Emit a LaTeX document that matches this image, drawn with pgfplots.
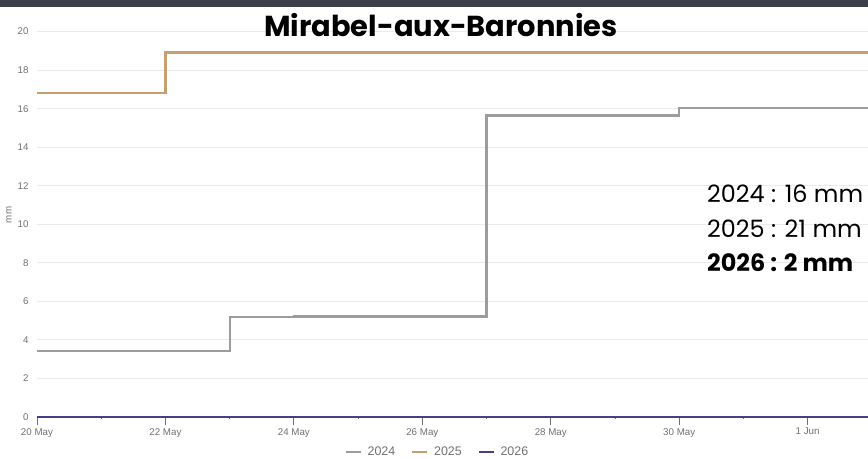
\documentclass[border=0pt]{standalone}
\usepackage{pgfplots}
\pgfplotsset{compat=1.18}
\usepackage{fontspec}
\setmainfont{Liberation Sans}
\newfontfamily\pop{Poppins}
\definecolor{band}{HTML}{3D404A}
\definecolor{c24}{HTML}{9C9C9C}
\definecolor{c25}{HTML}{C89E6E}
\definecolor{c26}{HTML}{4B3C85}
\definecolor{tick}{HTML}{707070}
\definecolor{gridc}{HTML}{EBEBEB}
\begin{document}
\begin{tikzpicture}[x=1bp,y=1bp]
\useasboundingbox (0,0) rectangle (868,459);
\begin{axis}[
  at={(37bp,42.3bp)}, anchor=south west,
  scale only axis, width=831bp, height=409.7bp,
  xmin=0, xmax=12.94, ymin=0, ymax=21.28,
  axis line style={draw=none},
  axis x line=bottom, axis y line=left,
  xtick={0,2,4,6,8,10,12},
  xticklabels={20 May,22 May,24 May,26 May,28 May,30 May,1 Jun},
  minor xtick={1,3,5,7,9,11},
  ytick={0,2,...,20},
  ymajorgrids, major grid style={gridc, line width=1pt},
  xmajorgrids=false,
  tick style={tick, line width=0.9pt},
  major tick length=8bp, minor tick length=2bp,
  x tick style={tick, yshift=-4bp},
  minor x tick style={yshift=3bp},
  y tick style={draw=none},
  tick label style={font=\fontsize{9.8}{10}\selectfont, text=tick},
  /pgf/number format/assume math mode=true,
  xticklabel style={yshift=-4bp},
  yticklabel style={xshift=-1bp},
  clip=false,
  legend columns=3,
  legend style={draw=none, fill=none, at={(0.482,-0.086)}, anchor=center,
    font=\fontsize{12.5}{13}\selectfont, text=tick, column sep=4bp,
    /tikz/every even column/.append style={column sep=14bp}},
  legend image code/.code={\draw[#1, line width=1.8pt] (14bp,0bp) -- (29bp,0bp);},
]
\addplot[c24, line width=2.2pt, const plot] coordinates {
 (0,3.43) (1,3.43) (2,3.43) (3,5.16) (4,5.2) (5,5.2) (6,5.2) (7,15.64) (8,15.64) (9,15.64) (10,16.02) (11,16.02) (12,16.02) (12.94,16.02)};
\addlegendentry{2024}
\addplot[c25, line width=2.2pt, const plot] coordinates {
 (0,16.8) (1,16.8) (2,18.92) (3,18.92) (4,18.92) (5,18.92) (6,18.92) (7,18.92) (8,18.92) (9,18.92) (10,18.92) (11,18.92) (12,18.92) (12.94,18.92)};
\addlegendentry{2025}
\addplot[c26, line width=2.2pt, const plot] coordinates {
 (0,0) (1,0) (2,0) (3,0) (4,0) (5,0) (6,0) (7,0) (8,0) (9,0) (10,0) (11,0) (12,0) (12.94,0)};
\addlegendentry{2026}
\end{axis}
\node[rotate=90, font=\fontsize{9.8}{10}\selectfont, text=tick] at (9,244) {mm};
\fill[band] (0,452) rectangle (868,459);
\node[font=\pop\bfseries\fontsize{29}{32}\selectfont, anchor=base, inner sep=0] at (441,422) {Mirabel-aux-Baronnies};
\node[font=\pop\fontsize{24}{28}\selectfont, anchor=base west, inner sep=0] at (707,256) {2024 : 16 mm};
\node[font=\pop\fontsize{24}{28}\selectfont, anchor=base west, inner sep=0] at (707,221) {2025 : 21 mm};
\node[font=\pop\bfseries\fontsize{24}{28}\selectfont, anchor=base west, inner sep=0] at (707,187) {2026 : 2 mm};
\end{tikzpicture}
\end{document}
